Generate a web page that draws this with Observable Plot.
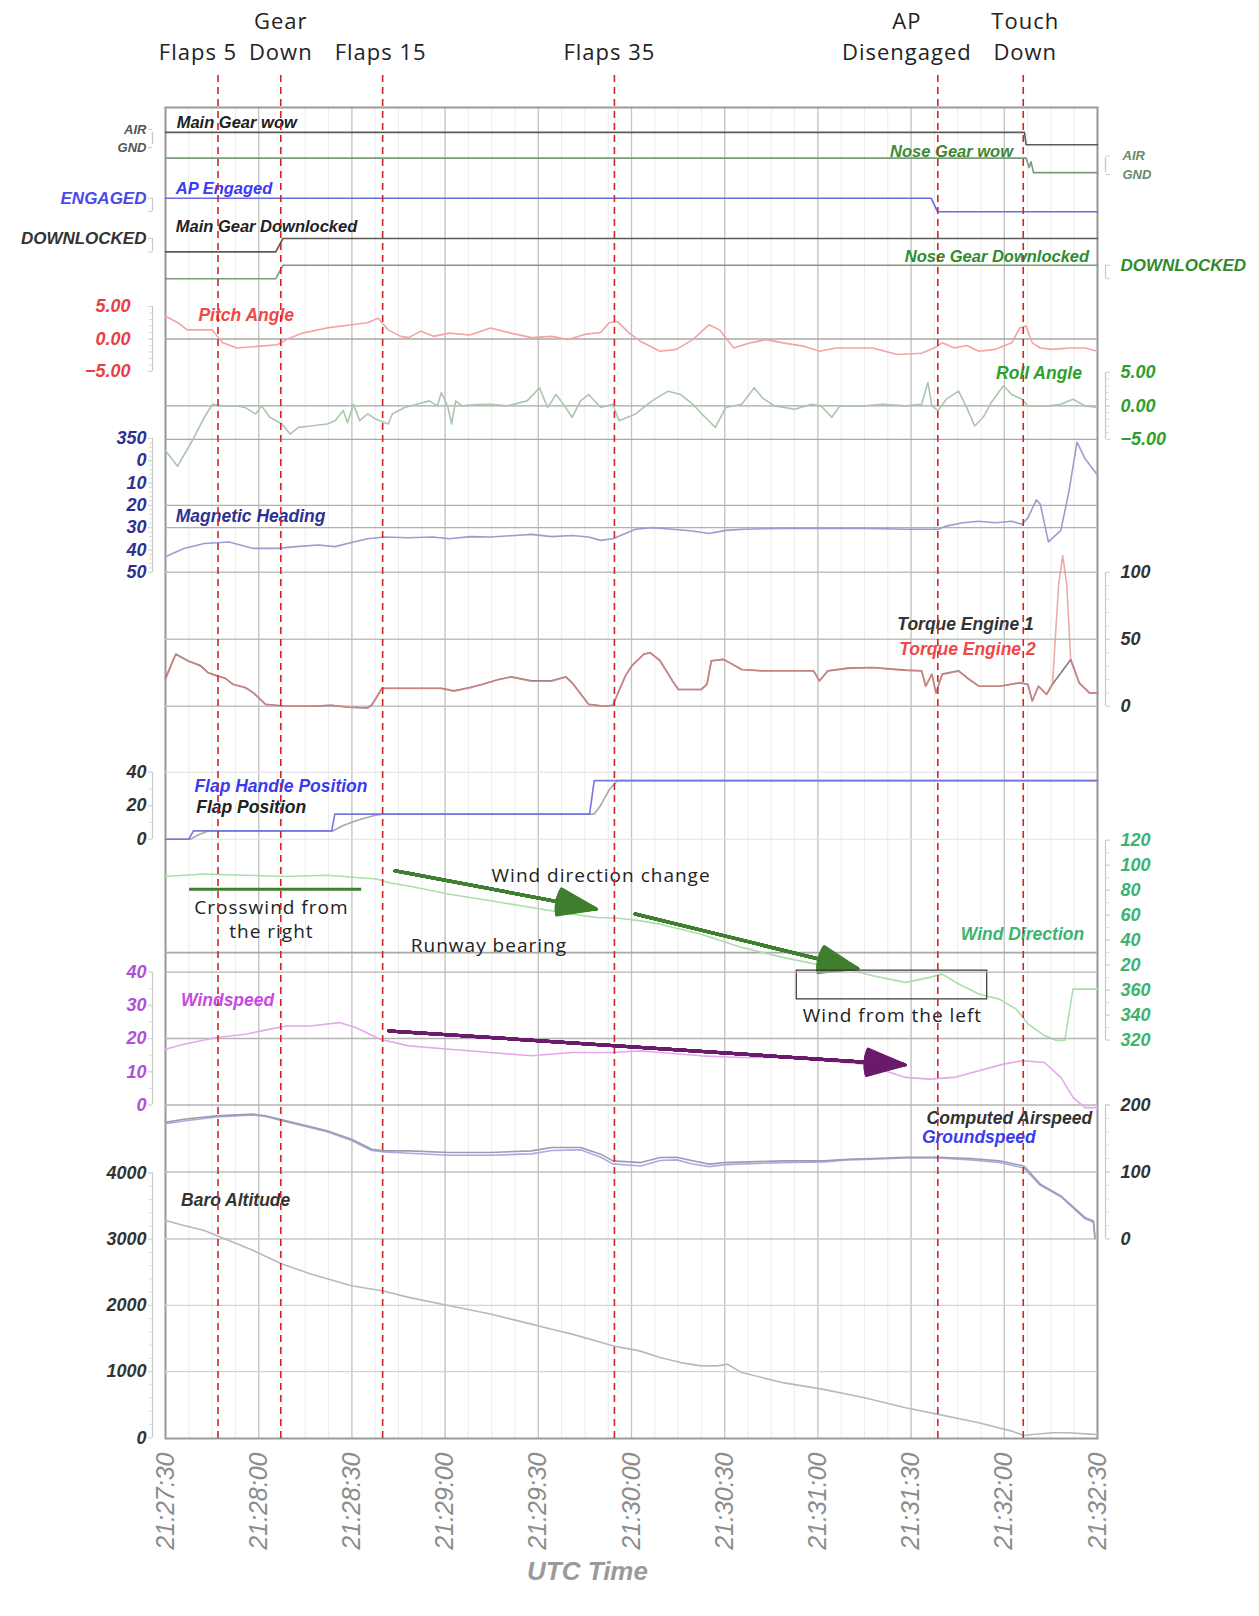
<!DOCTYPE html>
<html><head><meta charset="utf-8">
<script src="https://cdn.jsdelivr.net/npm/d3@7"></script>
<script src="https://cdn.jsdelivr.net/npm/@observablehq/plot@0.6"></script>
<style>
html,body{margin:0;padding:0;background:#fff;}
#chart{position:relative;width:1259px;height:1616px;overflow:hidden;background:#fff;}
#chart g[font-family*="Open"]{letter-spacing:1px;}
</style></head><body><div id="chart"></div>
<script>
// ---------------- DATA (t = seconds after 21:27:30 UTC) ----------------
const xTickSeconds = [0,30,60,90,120,150,180,210,240,270,300];
const events = ["Flaps 5","Gear\nDown","Flaps 15","Flaps 35","AP\nDisengaged","Touch\nDown"];
const eventTimes = [16.9, 37.1, 69.9, 144.5, 248.6, 276.1];

const mainGearWow = [[0,1],[276.5,1],[277,0],[300,0]];
const noseGearWow = [[0,1],[277,1],[278,0.35],[278.6,0.75],[279.4,0],[300,0]];
const apEngaged = [[0,1],[246.5,1],[248.5,0],[300,0]];
const mainGearDownlocked = [[0,0],[35.5,0],[37.8,1],[300,1]];
const noseGearDownlocked = [[0,0],[35.5,0],[37.8,1],[300,1]];

const pitch = [[0,3.5],[4,2.5],[7,1.4],[15,1.4],[18.4,-0.6],[23,-1.4],[28,-1.2],[36,-0.9],[39,-0.1],[44,0.9],[52,1.7],[60,2.2],[65,2.5],[68.4,3.2],[71.7,1.4],[75.7,0.4],[78.3,0.2],[82.2,1.2],[86.2,0.4],[91.4,0.9],[98,0.6],[104.6,1.7],[111.2,0.9],[117.8,0.2],[124.3,0.4],[129.6,-0.1],[134.9,0.7],[140.1,1.0],[142.8,2.5],[145.4,2.7],[149.3,0.9],[153,-0.4],[159.2,-1.9],[164.5,-1.6],[169.7,-0.1],[175,2.2],[178.3,1.4],[182.9,-1.4],[188.2,-0.6],[193.4,-0.1],[198.7,-0.6],[205.3,-1.1],[210.5,-1.9],[215.8,-1.4],[222.4,-1.4],[227.6,-1.4],[235.5,-2.4],[243.4,-2.2],[247.4,-1.4],[250,-0.6],[254,-1.4],[257.9,-1.0],[261.8,-1.9],[267.1,-1.6],[272.4,-0.6],[275,1.7],[277,2.0],[279,-0.6],[281.6,-1.4],[285.5,-1.6],[290.8,-1.4],[296,-1.4],[300,-1.9]];

const roll = [[0,-6.7],[3.9,-9],[8.6,-5.2],[12.5,-1.7],[15.1,0.25],[18.4,0],[23,0],[25.7,-0.25],[29,-1.2],[30.9,0],[33.6,-1.7],[37.5,-2.7],[40.1,-4.2],[42.8,-3.2],[46.7,-3],[52,-2.7],[54.6,-2.2],[57.2,-0.7],[58.6,-2.5],[60.5,0.25],[62.5,-2.2],[65.1,-1.2],[67.8,-2],[71.7,-2.7],[73,-1.2],[77,-0.25],[80.9,0.25],[84.9,0.75],[87.5,0],[88.8,2],[90.8,0],[92.1,-2.7],[93.4,0.75],[95.4,0],[100,0.2],[104.6,0.25],[110,0],[116.4,0.75],[120.4,2.7],[123,-0.25],[125.7,1.7],[128,0.3],[130.9,-1.7],[133.6,0.75],[136.2,1.7],[140.1,-0.25],[144,0.25],[146,-2.2],[151.3,-1.2],[156.6,0.75],[161.8,2.2],[165.8,1.7],[169.7,0.25],[173.7,-1.7],[177,-3.2],[180.3,-0.25],[185.5,0.25],[189.5,2.7],[192.1,1.2],[196,0],[202.6,-0.5],[207.9,0.25],[211,0],[214.5,-1.7],[217.1,0],[225,0],[231,0.25],[238.2,0],[243.4,0.25],[245.4,3.5],[246.7,0],[248.7,-0.7],[251.3,1],[255.3,2.2],[257.9,-0.25],[260.5,-3],[263.2,-1.7],[265.8,0.5],[269.7,3],[272.4,1.7],[275.7,1],[277.6,0],[284.2,0],[288.2,0.25],[292.1,1],[296,0],[300,-0.25]];

const heading = [[0,43],[5.9,39.3],[12.5,37.1],[20.4,36.4],[28.3,39.3],[36.2,39.3],[42,38.5],[49.3,37.8],[54.6,38.5],[60.5,36.4],[65.1,35],[70.4,34.2],[78.3,34.5],[86,34.2],[91.4,35],[98,34],[104.6,34.2],[112.5,33.5],[117.8,33],[124.3,34],[130.9,33.5],[136.2,34.2],[140.1,35.7],[144,35],[148,32.6],[151.3,30.7],[156.6,30],[163.2,30.7],[169.7,31.5],[175,32.6],[180.3,31.2],[186,30.7],[198.7,30.3],[211.8,30.3],[225,30.3],[238.2,30.7],[246,30.7],[248.7,30.7],[251.3,29.3],[256.6,27.8],[261.8,27.1],[267.1,27.8],[272.4,27.1],[275.7,28.5],[277.6,25.6],[280.3,17.5],[281.6,19.5],[284.2,36.4],[288.2,31.2],[290.8,13.8],[293.4,-8.3],[296,-0.9],[300,6.4]];

const torqueEngine1 = [[0,21],[3.3,39],[7.2,34],[11.2,30.5],[13.8,25],[16.4,23],[19.1,21],[21.7,16.5],[25.7,14],[28.3,10],[32.2,1.5],[38.8,0],[46.7,0],[53.3,0.75],[59,-0.75],[65.1,-1.25],[66.4,1],[69.7,13.5],[78.3,13.5],[88.8,13.5],[92.8,11.5],[98,14],[102,16.5],[107.2,20],[111.2,22],[117.8,19],[124.3,19],[128.9,22],[130.9,17.5],[136.2,1.5],[141.4,0],[144,0.75],[148,22.5],[150,30],[154,39],[156,40],[159.2,34],[163.2,19],[165.1,12.5],[172.4,12.5],[174.3,16.5],[175.7,34],[179.6,35],[185.5,27.5],[192.1,26.5],[201.3,26.5],[208.6,26.5],[210.5,19],[213.2,26.5],[219.7,28.5],[227.6,29],[238.2,27],[243.4,26.5],[244.7,15],[246.7,24],[248,10],[250,24],[255.3,26.5],[257.9,21.5],[261.8,15],[268.4,15],[275,17.5],[277.6,16.5],[279,4],[281,15],[283.6,9],[285.5,16.5],[289.5,29],[291.4,35],[294.1,17.5],[297.4,10],[300,10]];
const torqueEngine2 = [[0,20],[3.3,38.75],[7.2,33.75],[11.2,30],[13.8,25],[16.4,22.5],[19.1,21.25],[21.7,16.25],[25.7,13.75],[28.3,10],[32.2,1.25],[38.8,0],[46.7,0],[53.3,0.75],[59,-0.75],[65.1,-1.25],[66.4,1],[69.7,13.25],[78.3,13.25],[88.8,13.25],[92.8,11.25],[98,13.75],[102,16.25],[107.2,20],[111.2,21.75],[117.8,18.75],[124.3,18.75],[128.9,21.75],[130.9,17.5],[136.2,1.25],[141.4,0],[144,0.75],[148,22.5],[150,30],[154,38.75],[156,40],[159.2,33.75],[163.2,18.75],[165.1,12.5],[172.4,12.5],[174.3,16.25],[175.7,33.75],[179.6,35],[185.5,27.5],[192.1,26.25],[201.3,26.5],[208.6,26.25],[210.5,18.75],[213.2,26.25],[219.7,28.25],[227.6,28.75],[238.2,26.75],[243.4,26.25],[244.7,15],[246.7,23.75],[248,10],[250,23.75],[255.3,26.25],[257.9,21.25],[261.8,15],[268.4,15],[275,17.5],[277.6,16.25],[279,3.75],[281,15],[283.6,8.75],[285.5,16.25],[287.5,91],[288.8,112.5],[290.1,91],[291.4,33.75],[294.1,17.5],[297.4,10],[300,10]];

const flapHandle = [[0,0],[7.5,0],[9,5],[53.5,5],[54.5,15],[136.5,15],[138,35],[300,35]];
const flapPosition = [[0,0],[8,0],[11,3],[14,5],[54,5],[57,8],[62,11.5],[67,14],[70,15],[138,15],[140,20],[143,30],[145.5,35],[300,35]];

const windDirection = [[0,91],[12.5,93],[25,92],[38.8,91],[52,92],[62.5,90],[68,89],[72,86],[78.3,83.4],[91.4,76.8],[104.6,71.5],[117.8,66.2],[130.9,60.8],[138.8,58.1],[146,57.5],[153,55.4],[159.2,52.8],[172.4,44.8],[185.5,34.2],[198.7,26.2],[211.8,19.5],[219.7,16.9],[227.6,11.5],[238.2,6.2],[246,10.2],[250,12.8],[255.3,4.9],[261.8,-3.1],[268.4,-7.2],[273.7,-15],[277.6,-27],[282.9,-36.4],[286.8,-40.3],[289.5,-40],[292.1,0.8],[296,0.8],[300,0.8]];

const windspeed = [[0,16.8],[5.9,18.3],[16.4,20.3],[25.7,21.3],[30.9,22.3],[38.8,23.8],[46.7,23.8],[55.9,24.8],[61.2,23.3],[69.1,19.8],[78.3,17.8],[91.4,16.8],[104.6,15.8],[117.8,14.8],[130.9,15.8],[144,15.8],[153,16.3],[159.2,15.8],[172.4,14.8],[185.5,14.3],[198.7,14.3],[211.8,13.3],[225,12.3],[238.2,8.3],[246,7.8],[253.9,8.3],[261.8,10.3],[269.7,12.3],[275.7,13.3],[282.9,12.8],[288.2,8.3],[292.1,2.3],[296,-0.8],[300,-0.8]];

const computedAirspeed = [[0,174],[5.9,178.8],[16.4,183.8],[28.3,186.3],[32.2,184],[38.8,176.3],[52,161.4],[59.9,148.9],[66.4,134],[70.4,131.5],[78.3,131.5],[91.4,129],[104.6,129],[117.8,131.5],[124.3,136.5],[133.6,136.5],[140.1,126.6],[144,116.6],[153,114],[159.2,121.5],[164.5,122],[169.7,116.6],[175,111.7],[180.3,114],[198.7,116.6],[211.8,116.6],[219.7,119],[227.6,120],[238.2,122],[248.7,122],[259.2,120],[268.4,116.6],[276.3,109],[281.6,81.8],[288.2,64.3],[296,31.8],[298.7,26.9],[299.2,0],[300,0]];
const groundspeed = [[0,172],[5.9,176],[16.4,182],[28.3,185],[32.2,183],[38.8,175],[52,160],[59.9,147],[66.4,132],[70.4,130],[78.3,128],[91.4,125],[104.6,125],[117.8,127],[124.3,132],[133.6,133],[140.1,122],[144,112],[153,109],[159.2,117],[164.5,118],[169.7,112],[175,108],[180.3,111],[198.7,114],[211.8,115],[219.7,118],[227.6,119],[238.2,121],[248.7,121],[259.2,118],[268.4,114],[276.3,106],[281.6,80],[288.2,63],[296,30],[298.7,25],[299.2,0],[300,0]];

const baroAltitude = [[0,3283],[5.9,3207],[12.5,3131],[20.4,2980],[28.3,2828],[37.5,2626],[46.7,2475],[59.9,2298],[69.7,2222],[78.3,2121],[91.4,1995],[104.6,1869],[117.8,1717],[124.3,1641],[130.9,1566],[144,1389],[152.6,1313],[159.2,1212],[165.8,1136],[172.4,1086],[177.6,1086],[180.9,1111],[185.5,985],[198.7,833],[211.8,732],[225,606],[238.2,455],[248.7,354],[261.8,227],[272.4,101],[276.3,35],[279,50],[285.5,76],[290.8,76],[296,60],[300,50]];

// annotations, in data units (seconds, degrees / knots)
const crosswindBar = [{t1: 7.6, t2: 63, v: 80.7}];
const windArrows = [{t1: 73.9, v1: 95.5, t2: 138.6, v2: 65}, {t1: 151.2, v1: 60.9, t2: 222.8, v2: 17.3}];
const windBox = [{t1: 203.2, t2: 264.5, v1: 15.6, v2: -7.4}];
const runwayBearing = [30];
const windNotes = [{t: 34.1, v: 57.6, s: "Crosswind from\nthe right"}, {t: 140.2, v: 93, s: "Wind direction change"}, {t: 104.1, v: 37, s: "Runway bearing"}, {t: 234, v: -18.9, s: "Wind from the left"}];
const speedArrow = [{t1: 71.9, v1: 22.3, t2: 238, v2: 12.1}];

// ---------------- LAYOUT ----------------
const W = 1259, H = 1616, X0 = 165, X1 = 1097, YT = 107, YB = 1438;
const base = Date.UTC(2020, 0, 1, 21, 27, 30);
const T = s => new Date(base + s * 1000);
const FONT = "'Liberation Sans', Arial, sans-serif";
const LBL = 17.5;   // series label size
const TK = 18;      // numeric tick label size

function layer(domain, range, marks) {
  return Plot.plot({
    width: W, height: H,
    marginLeft: X0, marginRight: W - X1, marginTop: YT, marginBottom: H - YB,
    x: {type: "utc", domain: [T(0), T(300)], axis: null},
    y: {type: "linear", domain, range, axis: null},
    style: `position:absolute;left:0;top:0;background:transparent;overflow:visible;font-family:${FONT};font-style:italic;font-weight:bold;font-size:15px;`,
    marks
  });
}
const series = (data, stroke, extra = {}) =>
  Plot.line(data, {x: d => T(d[0]), y: d => d[1], stroke, strokeWidth: 1.6, ...extra});

function axis(side, ticks, fmt, color, lo, hi, minor, opt = {}) {
  const off = side === "left" ? -13 : 8;
  const pad = opt.pad ?? (side === "left" ? 2 : 11);
  const m = [
    Plot.ruleX([T(side === "left" ? 0 : 300)], {y1: lo, y2: hi, dx: off, stroke: "#c8c8c8", strokeWidth: 1.2}),
    Plot.axisY({anchor: side, ticks, tickFormat: fmt, dx: off, dy: opt.dy ?? 0, tickSize: 4, tickPadding: pad, color, fontSize: opt.size ?? TK, stroke: "#c8c8c8"})
  ];
  if (minor) m.push(Plot.axisY({anchor: side, ticks: minor, tickFormat: () => "", dx: off, tickSize: 3, stroke: "#dadada"}));
  return m;
}
const label = (t, v, s, fill, anchor = "start", dy = 0, fontSize = LBL) =>
  Plot.text([s], {x: () => T(t), y: () => v, text: d => d, fill, textAnchor: anchor, dy, fontSize});

// solid-looking arrow head: many head strokes of decreasing spread
const arrowMarks = (data, stroke) => d3.range(0, 41, 3).map(a =>
  Plot.arrow(data, {x1: d => T(d.t1), y1: "v1", x2: d => T(d.t2), y2: "v2", stroke, strokeWidth: 3, headLength: 20, headAngle: a}));

const chart = document.getElementById("chart");
const layers = [];

// base: frame, grid, x axis
layers.push(layer([0, 1], [YB, YT], [
  Plot.gridX({ticks: d3.range(0, 301, 7.5).map(T), stroke: "#ececec", strokeOpacity: 1}),
  Plot.gridX({ticks: xTickSeconds.map(T), stroke: "#c4c4c4", strokeOpacity: 1, strokeWidth: 1.3}),
  Plot.frame({stroke: "#9a9a9a", strokeWidth: 2}),
  Plot.axisX({ticks: xTickSeconds.map(T), tickFormat: d3.utcFormat("%H:%M:%S"), tickRotate: -90, tickSize: 0, tickPadding: 14, fontSize: 25, color: "#8c8c8c", fontWeight: "normal", label: null}),
  Plot.text(["UTC Time"], {text: d => d, frameAnchor: "bottom", dx: -44, dy: 141, fontSize: 26, fill: "#9a9a9a", fontWeight: "bold"})
]));

// discrete signals
layers.push(layer([0, 1], [144.2, 131.9], [
  series(mainGearWow, "#5a5a5a"),
  ...axis("left", [1], () => "AIR", "#555", 0, 1, null, {size: 13, dy: -3}),
  ...axis("left", [0], () => "GND", "#555", 0, 1, null, {size: 13, dy: 3}),
  label(3.6, 1, "Main Gear wow", "#222", "start", -10, 16.5)
]));
layers.push(layer([0, 1], [172.1, 157.6], [
  series(noseGearWow, "#7d9a7d"),
  ...axis("right", [1], () => "AIR", "#6a8a6a", 0, 1, null, {size: 13, dy: -2, pad: 13}),
  ...axis("right", [0], () => "GND", "#6a8a6a", 0, 1, null, {size: 13, dy: 2, pad: 13}),
  label(272.8, 1, "Nose Gear wow", "#3a8a3a", "end", -6, 16.5)
]));
layers.push(layer([0, 1], [211.2, 197.8], [
  series(apEngaged, "#6a6ae6"),
  ...axis("left", [1, 0], v => v ? "ENGAGED" : "", "#4a4ae8", 0, 1, null, {size: 17}),
  label(3.3, 1, "AP Engaged", "#3a3af0", "start", -10, 16.5)
]));
layers.push(layer([0, 1], [251.4, 238], [
  series(mainGearDownlocked, "#5a5a5a"),
  ...axis("left", [1, 0], v => v ? "DOWNLOCKED" : "", "#333", 0, 1, null, {size: 17}),
  label(3.3, 1, "Main Gear Downlocked", "#222", "start", -12, 16.5)
]));
layers.push(layer([0, 1], [278.2, 264.8], [
  series(noseGearDownlocked, "#7d9a7d"),
  ...axis("right", [1, 0], v => v ? "DOWNLOCKED" : "", "#2e8b2e", 0, 1, null, {size: 17}),
  label(297.3, 1, "Nose Gear Downlocked", "#2e8b2e", "end", -9, 16.5)
]));

// pitch
layers.push(layer([-5, 5], [370.9, 306], [
  Plot.gridY({ticks: [0], stroke: "#a8a8a8", strokeOpacity: 1, strokeWidth: 1.4}),
  series(pitch, "#f2a4a4"),
  ...axis("left", [5, 0, -5], d3.format(".2f"), "#e84040", -5, 5, d3.range(-5, 5.1, 1), {pad: 18}),
  label(10.6, 3.6, "Pitch Angle", "#f04848")
]));
// roll
layers.push(layer([-5, 5], [438.9, 371.9], [
  Plot.gridY({ticks: [0, -5], stroke: "#a8a8a8", strokeOpacity: 1, strokeWidth: 1.4}),
  series(roll, "#abc6ab"),
  ...axis("right", [5, 0, -5], d3.format(".2f"), "#2ca02c", -5, 5, d3.range(-5, 5.1, 1)),
  label(295, 4.9, "Roll Angle", "#2ca02c", "end")
]));
// heading
layers.push(layer([-10, 50], [437.9, 571.8], [
  Plot.gridY({ticks: [20, 30], stroke: "#b0b0b0", strokeOpacity: 1, strokeWidth: 1.4}),
  series(heading, "#9c9cd0"),
  ...axis("left", d3.range(-10, 51, 10), v => v < 0 ? v + 360 : v, "#2e3192", -10, 50, d3.range(-10, 51, 2)),
  label(3.3, 24.9, "Magnetic Heading", "#2e3192")
]));
// torque
layers.push(layer([0, 100], [705.8, 571.8], [
  Plot.gridY({ticks: [0, 50, 100], stroke: "#c0c0c0", strokeOpacity: 1, strokeWidth: 1.4}),
  series(torqueEngine1, "#8a7a7a"),
  series(torqueEngine2, "#e48888", {strokeOpacity: 0.7}),
  ...axis("right", [0, 50, 100], d3.format("d"), "#333", 0, 100, d3.range(0, 101, 10)),
  label(279.5, 60.8, "Torque Engine 1", "#333", "end"),
  label(280.1, 42.3, "Torque Engine 2", "#f04848", "end")
]));
// flaps
layers.push(layer([0, 40], [838.7, 771.7], [
  Plot.gridY({ticks: [0, 40], stroke: "#e0e0e0", strokeOpacity: 1}),
  series(flapPosition, "#a8a8a8"),
  series(flapHandle, "#7777e0"),
  ...axis("left", [0, 20, 40], d3.format("d"), "#333", 0, 40, d3.range(0, 41, 10)),
  label(9.3, 31.4, "Flap Handle Position", "#3a3af0"),
  label(9.9, 19, "Flap Position", "#222")
]));
// wind direction + annotations
layers.push(layer([-40, 120], [1039.6, 839.7], [
  Plot.ruleY(runwayBearing, {stroke: "#a8a8a8", strokeWidth: 1.6}),
  series(windDirection, "#acdeac"),
  ...axis("right", d3.range(-40, 121, 20), v => v <= 0 ? v + 360 : v, "#3cb371", -40, 120, d3.range(-40, 121, 10)),
  label(295.7, 44.4, "Wind Direction", "#3cb371", "end"),
  Plot.link(crosswindBar, {x1: d => T(d.t1), x2: d => T(d.t2), y1: "v", y2: "v", stroke: "#3f7f2f", strokeWidth: 3}),
  ...arrowMarks(windArrows, "#3f7f2f"),
  Plot.rect(windBox, {x1: d => T(d.t1), x2: d => T(d.t2), y1: "v1", y2: "v2", stroke: "#333", strokeWidth: 1.2, fill: "none"}),
  Plot.text(windNotes, {x: d => T(d.t), y: "v", text: "s", fontSize: 19, lineHeight: 1.3, fill: "#222", fontStyle: "normal", fontWeight: "normal", fontFamily: "'Open Sans', sans-serif"})
]));
// windspeed
layers.push(layer([0, 40], [1104.5, 971.6], [
  Plot.gridY({ticks: [0, 20, 40], stroke: "#b4b4b4", strokeOpacity: 1, strokeWidth: 1.4}),
  series(windspeed, "#e2aaea"),
  ...axis("left", [0, 10, 20, 30, 40], d3.format("d"), "#b050d8", 0, 40, d3.range(0, 41, 5)),
  label(5, 31.6, "Windspeed", "#c848e8"),
  ...arrowMarks(speedArrow, "#6a1b6a")
]));
// speeds
layers.push(layer([0, 200], [1238.4, 1104.5], [
  Plot.gridY({ticks: [0, 100], stroke: "#c0c0c0", strokeOpacity: 1, strokeWidth: 1.4}),
  series(groundspeed, "#aaaae6"),
  series(computedAirspeed, "#9c9cae"),
  ...axis("right", [0, 100, 200], d3.format("d"), "#333", 0, 200, d3.range(0, 201, 20)),
  label(298.3, 180, "Computed Airspeed", "#333", "end"),
  label(280.1, 152, "Groundspeed", "#3a3af0", "end")
]));
// altitude
layers.push(layer([0, 4000], [1437.3, 1172.5], [
  Plot.gridY({ticks: [1000, 2000, 3000], stroke: "#d4d4d4", strokeOpacity: 1, strokeWidth: 1.2}),
  series(baroAltitude, "#b8b8c2"),
  ...axis("left", [0, 1000, 2000, 3000, 4000], d3.format("d"), "#333", 0, 4000, d3.range(0, 4001, 200)),
  label(5, 3580, "Baro Altitude", "#333")
]));
// events
const labelDx = [-20, 0, -2, -5, -31, 2];
layers.push(layer([0, 1], [YB, 70], [
  Plot.ruleX(eventTimes.map(T), {y1: 0, y2: 1, stroke: "#d42424", strokeWidth: 1.6, strokeDasharray: "7,5"}),
  ...events.map((s, i) => Plot.text([s], {x: () => T(eventTimes[i]), y: () => 1, text: d => d, dx: labelDx[i], dy: -11, lineAnchor: "bottom", lineHeight: 1.4, fontSize: 22, fill: "#222", fontStyle: "normal", fontWeight: "normal", fontFamily: "'Open Sans', sans-serif"}))
]));

layers.forEach(l => chart.appendChild(l));
</script></body></html>
